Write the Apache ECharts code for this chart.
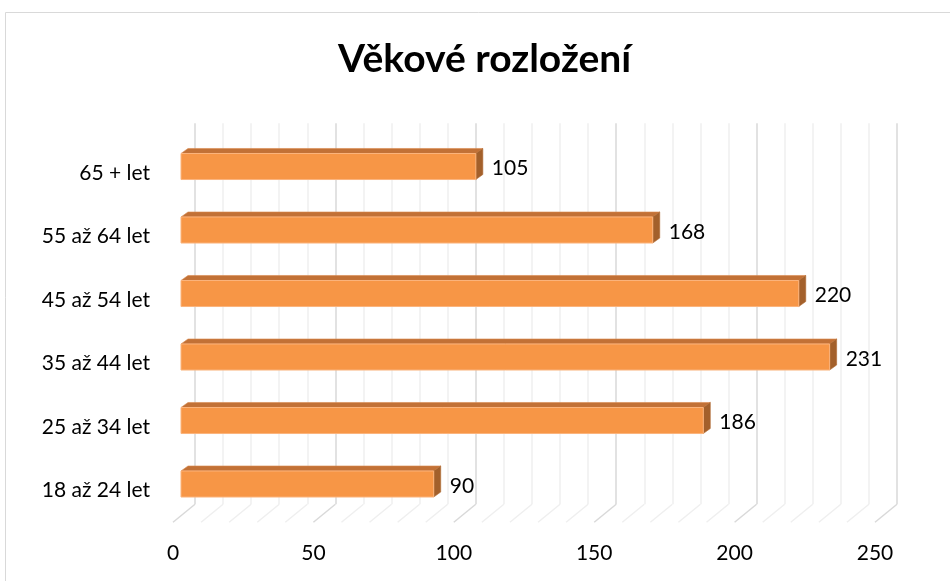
<!DOCTYPE html>
<html>
<head>
<meta charset="utf-8">
<script src="https://cdn.jsdelivr.net/npm/echarts@6/dist/echarts.min.js"></script>
<style>
  html, body { margin: 0; padding: 0; background: #fff; }
  #chart { width: 950px; height: 581px; }
</style>
</head>
<body>
<div id="chart"></div>
<script>
const categories = ["18 až 24 let", "25 až 34 let", "35 až 44 let", "45 až 54 let", "55 až 64 let", "65 + let"];
const counts = [90, 186, 231, 220, 168, 105];
const floorTicks = [0, 10, 20, 30, 40, 50, 60, 70, 80, 90, 100, 110, 120, 130, 140, 150, 160, 170, 180, 190, 200, 210, 220, 230, 240, 250];

const FONT = "Lato, 'Open Sans', sans-serif";
// oblique offsets from the bar plane to the back wall / front edge
const BACK = [14, -11.5];
const FRONT = [-8, 6.5];
const DEPTH = [7, 5];

const chart = echarts.init(document.getElementById("chart"), null, { renderer: "canvas" });

const plotW = 702, plotH = 381, barLeft = 181, barTop = 134.75;

const option = {
  backgroundColor: "#fff",
  animation: false,
  title: {
    text: "Věkové rozložení",
    left: 333,
    top: 35,
    textStyle: { fontFamily: FONT, fontSize: 39, fontWeight: "bold", color: "#000" }
  },
  graphic: [{
    type: "rect",
    shape: { x: 5.5, y: 12.5, width: 950, height: 580 },
    style: { fill: null, stroke: "#d9d9d9", lineWidth: 1 },
    silent: true
  }],
  grid: [
    // back wall
    { left: barLeft + BACK[0], top: barTop + BACK[1], width: plotW, height: plotH },
    // bar plane
    { left: barLeft, top: barTop, width: plotW, height: plotH },
    // front edge (labels)
    { left: barLeft + FRONT[0], top: barTop + FRONT[1], width: plotW, height: plotH }
  ],
  xAxis: [
    {
      gridIndex: 0, type: "value", min: 0, max: 250, interval: 50,
      axisLine: { show: false }, axisTick: { show: false }, axisLabel: { show: false },
      splitLine: { show: true, lineStyle: { color: "#d9d9d9", width: 1.5 } },
      minorTick: { show: false, splitNumber: 5 },
      minorSplitLine: { show: true, lineStyle: { color: "#efefef", width: 1.5 } }
    },
    {
      gridIndex: 1, type: "value", min: 0, max: 250, interval: 50,
      axisLine: { show: false }, axisTick: { show: false }, axisLabel: { show: false },
      splitLine: { show: false }
    },
    {
      gridIndex: 2, type: "value", min: 0, max: 250, interval: 50,
      axisLine: { show: false }, axisTick: { show: false }, splitLine: { show: false },
      axisLabel: { margin: 20, fontFamily: FONT, fontSize: 21, color: "#000" }
    }
  ],
  yAxis: [
    { gridIndex: 0, type: "category", data: categories, show: false },
    { gridIndex: 1, type: "category", data: categories, show: false },
    {
      gridIndex: 2, type: "category", data: categories,
      axisLine: { show: false }, axisTick: { show: false },
      axisLabel: { margin: 23, fontFamily: FONT, fontSize: 21, color: "#000" }
    }
  ],
  series: [
    {
      // floor lines joining the back wall to the front edge
      type: "custom",
      xAxisIndex: 1, yAxisIndex: 1,
      silent: true,
      z: 1,
      data: floorTicks,
      encode: { x: 0 },
      renderItem: function (params, api) {
        const v = api.value(0);
        const x = api.coord([v, 0])[0];
        const yb = params.coordSys.y + params.coordSys.height;
        return {
          type: "line",
          shape: { x1: x + BACK[0], y1: yb + BACK[1], x2: x + FRONT[0], y2: yb + FRONT[1] },
          style: { stroke: v % 50 === 0 ? "#d9d9d9" : "#efefef", lineWidth: 1.5 }
        };
      }
    },
    {
      type: "custom",
      xAxisIndex: 1, yAxisIndex: 1,
      z: 3,
      data: counts.map((c, i) => [c, i]),
      encode: { x: 0, y: 1 },
      renderItem: function (params, api) {
        const v = api.value(0);
        const i = api.value(1);
        const p0 = api.coord([0, i]);
        const p1 = api.coord([v, i]);
        const h = api.size([0, 1])[1] * 0.41;
        const x0 = p0[0], x1 = p1[0];
        const y0 = p1[1] - h / 2, y1 = p1[1] + h / 2;
        const dx = DEPTH[0], dy = DEPTH[1];
        return {
          type: "group",
          children: [
            {
              type: "polygon",
              shape: { points: [[x0, y0], [x0 + dx, y0 - dy], [x1 + dx, y0 - dy], [x1, y0]] },
              style: { fill: "#c27136", stroke: "#d98a4e", lineWidth: 0.6 }
            },
            {
              type: "polygon",
              shape: { points: [[x1, y0], [x1 + dx, y0 - dy], [x1 + dx, y1 - dy], [x1, y1]] },
              style: { fill: "#a3602b", stroke: "#b06a33", lineWidth: 0.6 }
            },
            {
              type: "rect",
              shape: { x: x0, y: y0, width: x1 - x0, height: h },
              style: { fill: "#f79646", stroke: "#fbb47d", lineWidth: 1 }
            },
            {
              type: "text",
              style: {
                text: String(v),
                x: x1 + 16, y: p1[1] + 2,
                fill: "#000",
                font: "21px " + FONT,
                textVerticalAlign: "middle",
                verticalAlign: "middle",
                align: "left"
              }
            }
          ]
        };
      }
    }
  ]
};

chart.setOption(option);
</script>
</body>
</html>
